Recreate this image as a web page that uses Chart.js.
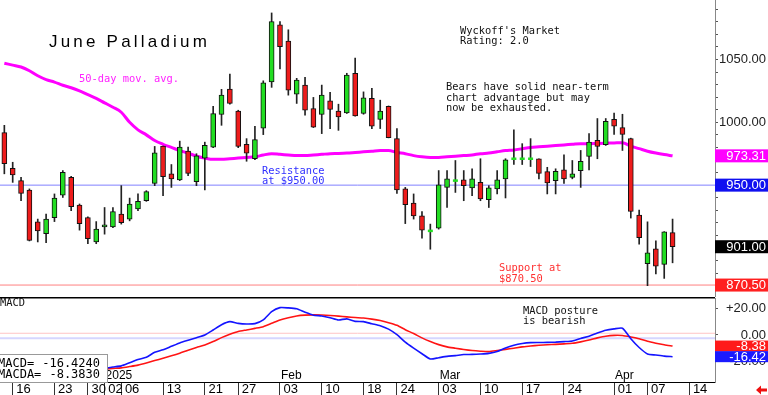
<!DOCTYPE html>
<html>
<head>
<meta charset="utf-8">
<script src="https://cdn.jsdelivr.net/npm/chart.js@4.4.1/dist/chart.umd.min.js"></script>
<style>
html, body { margin: 0; padding: 0; background: #fff; overflow: hidden; }
#wrap { position: relative; width: 768px; height: 395px; }
canvas { position: absolute; left: 0; }
#price { top: 0; }
#macd { top: 297px; }
</style>
</head>
<body>
<div id="wrap">
  <canvas id="price" width="768" height="297"></canvas>
  <canvas id="macd" width="768" height="98"></canvas>
</div>
<script>
// daily bars, Dec 13 2024 .. Apr 10 2025 (index 0 = Dec 13)
const opens = [991.8, 963.4, 953.6, 946.1, 920.8, 911.4, 924.2, 942.1, 956.2, 934.2,
  924.2, 904.8, 916.8, 916.8, 927, 923, 931, 937.6, 951.4, 981,
  959, 954.2, 977, 952.8, 971.4, 980.2, 1006.2, 1026.4, 1009, 982.4,
  971, 995.4, 1032.2, 1077.6, 1064.6, 1022.4, 1029.6, 1011, 1006.2, 1017,
  1009, 1007.4, 1039, 1007, 1019, 1002.2, 1012.8, 987, 947, 935.8,
  925.6, 913.6, 915.8, 948.2, 953.6, 954.2, 947.8, 952.2, 938.4, 946.9,
  955, 971, 971, 971, 971, 960.8, 953.6, 962.2, 956.2, 961.6,
  972.8, 985.6, 982.2, 1002.4, 995.8, 987, 926.2, 887.6, 899.4, 887,
  912.2];
const highs = [997.6, 968.2, 956.2, 947, 923, 927, 943, 961.6, 957, 935,
  924.8, 921, 932.2, 932.2, 949.6, 939.7, 943, 945.6, 980.8, 981,
  966.4, 985, 980.2, 975, 984.2, 1012.8, 1026.2, 1038.4, 1009.6, 987,
  996.8, 1033, 1087, 1080.2, 1073.6, 1035, 1035.8, 1019.8, 1029.6, 1023.8,
  1014.4, 1039, 1051, 1024.2, 1027, 1017.6, 1013, 995, 948.2, 943,
  929, 919, 961.6, 961.6, 969.6, 961.6, 963, 971, 949.6, 961.6,
  971, 994, 983, 987, 971, 964.2, 963, 974.2, 969.6, 977.6,
  991, 1003, 1003, 1007.4, 1006.4, 987.4, 930.2, 920.8, 905.6, 913,
  923];
const lows = [959, 952.2, 937.6, 905.6, 904.8, 904.2, 921, 940.2, 929.6, 914.2,
  903.4, 903.4, 911, 916.2, 919, 921.6, 929.6, 937.1, 949.6, 941.6,
  948.2, 953.6, 957.6, 949.6, 946.2, 979.8, 997.6, 1014.4, 979.8, 969,
  970.2, 990.2, 1027.8, 1042.4, 1021.6, 1015, 1005.6, 995.8, 991, 995,
  993.6, 1007, 1004.8, 1006.4, 995, 995, 987.6, 943.4, 919.4, 923,
  907.8, 899, 915, 932.2, 944.2, 937.6, 941.6, 937.6, 932.2, 943,
  939.8, 966.4, 966.4, 964.8, 955, 943, 943, 951.4, 955, 948.2,
  962.2, 971, 981.6, 990.4, 977.6, 923.8, 903, 870, 879.4, 875.8,
  888.2];
const closes = [967, 958.1, 943.4, 906.1, 913.6, 923, 939.7, 960.2, 932.8, 919.4,
  907.4, 915, 918.4, 929, 920.2, 934.9, 937.1, 944.8, 975.8, 956.8,
  955, 980.2, 959.4, 973.4, 981.6, 1006.9, 1021.6, 1015, 980.8, 975.4,
  986.2, 1031.4, 1080.2, 1060.2, 1025.6, 1033.6, 1009.6, 996.2, 1021.6, 1010.2,
  1004.2, 1037.6, 1005, 1019.4, 997, 1009, 987.8, 946.2, 934.4, 925.6,
  914.2, 913.6, 950.2, 955, 953.6, 949.6, 955, 939, 947.8, 954.2,
  970.2, 971, 971, 971, 959.4, 951.8, 961, 955, 959, 969,
  984.2, 980.8, 1000.8, 997, 990.4, 929, 908.2, 896.2, 885.6, 912.8,
  901];
const ma50 = [1047, 1045.5, 1044, 1041, 1037, 1034, 1032, 1029.5, 1027.5, 1025,
  1022, 1019, 1015.5, 1012, 1008, 1000, 994, 990, 985.5, 982.5,
  980, 977.5, 975.5, 973, 971.5, 970.5, 970.5, 971, 971.5, 972,
  972.5, 974, 975, 974.5, 974, 973.5, 973.5, 974, 974.5, 975,
  975.2, 975.5, 976, 976.5, 977, 977.5, 977.5, 976, 975, 973.5,
  972.5, 972, 972, 972.5, 973, 973.5, 974, 975, 975.5, 976.5,
  977.5, 978, 979, 980, 980.5, 981, 981.5, 982, 982.5, 983,
  983, 983.2, 983.4, 983.6, 983.8, 981, 979, 977, 975.5, 974.3,
  973.31];
const macdLine = [-27, -27.5, -27.8, -28, -28.3, -28.5, -28.2, -28, -27.8, -27.3,
  -26.8, -26, -25.2, -24.3, -23.4, -21, -18.6, -16.9, -13.1, -11.2,
  -8.6, -6, -4, -2.1, 0, 3.8, 7.8, 10.1, 8.8, 8.3,
  8.6, 11.4, 17.7, 20.7, 20.5, 19.8, 17.2, 15, 14.4, 13.1,
  11.4, 12.2, 10.3, 10.1, 8.5, 7, 4.4, 0.2, -5.5, -10,
  -14.2, -18.2, -17.2, -16.2, -15.6, -14.8, -14.7, -14.4, -13.9, -12.5,
  -9.8, -7.8, -6.5, -5.8, -5.7, -5.6, -5.4, -5, -4.5, -2.6,
  -0.9, 1.5, 3.6, 4.6, 5.1, -2.8, -9.5, -14.4, -15.2, -16,
  -16.424];
const macdAvg = [-24, -24.5, -25, -25.4, -25.8, -26.1, -26.4, -26.5, -26.6, -26.5,
  -26.3, -26, -25.8, -25.3, -24.9, -23.9, -22.8, -21.2, -19.4, -17.6,
  -15.8, -13.8, -11.5, -9.4, -7.6, -5, -2, 0.5, 2.6, 3.8,
  5, 6.3, 8.8, 11.4, 13.1, 14.4, 15, 15.2, 15.1, 14.8,
  14.3, 13.7, 13.2, 12.8, 12, 10.9, 9.3, 7.3, 4, 1.1,
  -2.2, -5, -7.3, -9, -10, -11, -11.8, -12.3, -12.6, -11.8,
  -10.9, -10, -9, -8.4, -7.8, -7.4, -7.1, -6.7, -6.3, -5.2,
  -3.8, -2.2, -0.9, -0.3, -0.4, -1.5, -2.8, -4.8, -6.2, -7.4,
  -8.383];
const macdRefLines = [1.3, -2.5];

const tickIdx = [1, 6, 10, 12, 14, 19, 24, 28, 33, 38, 43, 47, 52, 57, 62, 67, 73, 77, 82];
const tickLabels = ['16', '23', '30', '02', '06', '13', '21', '27', '03', '10', '18', '24',
  '03', '10', '17', '24', '01', '07', '14'];
const monthIdx = [12, 33, 52, 73];
const monthLabels = ['2025', 'Feb', 'Mar', 'Apr'];
const priceMajor = [900, 950, 1000, 1050];
const macdTicks = [-20, 0, 20];
const resistance = 950;
const support = 870.5;

const xMin = -0.52, xMax = 85.08;
const up = '#22dd22', down = '#ee1c1c';
const mono = '"DejaVu Sans Mono", monospace';
const axisFont = { family: 'Liberation Sans', size: 13 };
const idx = opens.map((_, i) => i);

function flat(v) {
  return [{ x: xMin, y: v }, { x: xMax, y: v }];
}

function valueBox(ctx, scale, v, color, text, h) {
  const y = scale.getPixelForValue(v);
  ctx.fillStyle = color;
  ctx.fillRect(715, y - h / 2, 53, h);
  ctx.fillStyle = '#fff';
  ctx.font = '13px "Liberation Sans"';
  ctx.textAlign = 'right';
  ctx.textBaseline = 'middle';
  ctx.fillText(text, 766, y + 0.5);
}

function lines(ctx, arr, x, y0, step) {
  arr.forEach((t, k) => ctx.fillText(t, x, y0 + k * step));
}

const priceNotes = {
  id: 'priceNotes',
  afterDraw(chart) {
    const ctx = chart.ctx;
    const ys = chart.scales.y;
    ctx.save();
    ctx.textBaseline = 'alphabetic';
    ctx.textAlign = 'left';
    ctx.fillStyle = '#000';
    ctx.font = '17px "Liberation Sans"';
    ctx.letterSpacing = '3.2px';
    ctx.fillText('June Palladium', 49, 47);
    ctx.letterSpacing = '0px';

    ctx.textBaseline = 'middle';
    ctx.font = '10.4px ' + mono;
    ctx.fillStyle = '#ff22ff';
    ctx.fillText('50-day mov. avg.', 79, 79);
    ctx.fillStyle = '#111';
    lines(ctx, ["Wyckoff's Market", 'Rating: 2.0'], 460, 31, 10.5);
    lines(ctx, ['Bears have solid near-term', 'chart advantage but may', 'now be exhausted.'], 446, 87.5, 10.3);
    ctx.fillStyle = '#3030ff';
    lines(ctx, ['Resistance', 'at $950.00'], 262, 171, 10.5);
    ctx.fillStyle = '#ff3030';
    lines(ctx, ['Support at', '$870.50'], 499, 268.5, 10.5);

    valueBox(ctx, ys, ma50[ma50.length - 1], '#ff00ff', ma50[ma50.length - 1].toFixed(2), 13);
    valueBox(ctx, ys, resistance, '#1010f0', resistance.toFixed(2), 13);
    valueBox(ctx, ys, closes[closes.length - 1], '#000', closes[closes.length - 1].toFixed(2), 13);
    valueBox(ctx, ys, support, '#ff2020', support.toFixed(2), 13);
    ctx.restore();
  }
};

new Chart(document.getElementById('price'), {
  type: 'bar',
  data: {
    datasets: [
      {
        type: 'line',
        data: idx.filter(i => opens[i] === closes[i]).map(i => ({ x: i, y: opens[i] })),
        showLine: false,
        pointStyle: 'line',
        pointRadius: 2.5,
        pointHoverRadius: 0,
        pointBorderWidth: 2.5,
        pointBorderColor: up,
        pointBackgroundColor: up
      },
      {
        type: 'bar',
        data: idx.map(i => ({ x: i, y: [opens[i], closes[i]] })),
        barThickness: 5,
        grouped: false,
        borderWidth: 1,
        borderSkipped: false,
        borderColor: '#111',
        backgroundColor: c => closes[c.dataIndex] >= opens[c.dataIndex] ? up : down
      },
      {
        type: 'bar',
        data: idx.map(i => ({ x: i, y: [lows[i], highs[i]] })),
        barThickness: 1,
        grouped: false,
        borderWidth: 0,
        backgroundColor: '#222'
      },
      {
        type: 'line',
        data: idx.map(i => ({ x: i, y: ma50[i] })),
        borderColor: '#ff00ff',
        borderWidth: 3,
        pointRadius: 0,
        cubicInterpolationMode: 'monotone'
      },
      { type: 'line', data: flat(resistance), borderColor: '#8080ff', borderWidth: 1, pointRadius: 0 },
      { type: 'line', data: flat(support), borderColor: '#ff8080', borderWidth: 1, pointRadius: 0 }
    ]
  },
  options: {
    responsive: false,
    animation: false,
    layout: { autoPadding: false, padding: { top: 0, right: 2, bottom: 0, left: 0 } },
    plugins: { legend: { display: false }, tooltip: { enabled: false } },
    scales: {
      x: { type: 'linear', min: xMin, max: xMax, offset: false, display: false, grid: { offset: false } },
      y: {
        position: 'right',
        min: 861,
        max: 1097.3,
        afterFit: s => { s.width = 51; s.paddingTop = 0; s.paddingBottom = 0; },
        ticks: {
          stepSize: 10,
          includeBounds: false,
          autoSkip: false,
          crossAlign: 'far',
          color: '#222',
          font: axisFont,
          callback: v => priceMajor.includes(v) ? v.toFixed(2) : ''
        },
        grid: { drawOnChartArea: false, tickLength: 3, color: '#555' },
        border: { color: '#888' }
      }
    }
  },
  plugins: [priceNotes]
});

const macdNotes = {
  id: 'macdNotes',
  afterDraw(chart) {
    const ctx = chart.ctx;
    const xs = chart.scales.x, ys = chart.scales.y;
    ctx.save();
    ctx.fillStyle = '#000';
    ctx.fillRect(0, 0, 715, 1.5);

    ctx.textBaseline = 'middle';
    ctx.textAlign = 'left';
    ctx.font = '10.4px ' + mono;
    ctx.fillStyle = '#111';
    ctx.fillText('MACD', 0, 6);
    lines(ctx, ['MACD posture', 'is bearish'], 523, 14, 10.5);

    ctx.font = '12px "Liberation Sans"';
    ctx.fillStyle = '#000';
    monthIdx.forEach((m, k) => ctx.fillText(monthLabels[k], xs.getPixelForValue(m) + 1, 79));

    ctx.fillStyle = '#fff';
    ctx.fillRect(-1, 57, 109, 28);
    ctx.strokeStyle = '#999';
    ctx.lineWidth = 1;
    ctx.strokeRect(-0.5, 57.5, 108, 28);
    ctx.fillStyle = '#000';
    ctx.font = '12px ' + mono;
    ctx.fillText('MACD=', -2, 66.5);
    ctx.fillText('MACDA=', -2, 77.5);
    ctx.textAlign = 'right';
    ctx.fillText(macdLine[macdLine.length - 1].toFixed(4), 100, 66.5);
    ctx.fillText(macdAvg[macdAvg.length - 1].toFixed(4), 100, 77.5);

    const a = macdAvg[macdAvg.length - 1], b = macdLine[macdLine.length - 1];
    valueBox(ctx, ys, a, '#ff1a1a', a.toFixed(2), 11);
    valueBox(ctx, ys, b, '#1a1aff', b.toFixed(2), 11);

    ctx.fillStyle = '#ee1010';
    ctx.beginPath();
    ctx.moveTo(756, 93);
    ctx.lineTo(761, 88.5);
    ctx.lineTo(761, 91.5);
    ctx.lineTo(767, 91.5);
    ctx.lineTo(767, 94.5);
    ctx.lineTo(761, 94.5);
    ctx.lineTo(761, 97.5);
    ctx.closePath();
    ctx.fill();
    ctx.restore();
  }
};

new Chart(document.getElementById('macd'), {
  type: 'line',
  data: {
    datasets: [
      { data: idx.map(i => ({ x: i, y: macdLine[i] })), borderColor: '#1414ff', borderWidth: 1.6, pointRadius: 0, tension: 0.2 },
      { data: idx.map(i => ({ x: i, y: macdAvg[i] })), borderColor: '#ff1414', borderWidth: 1.6, pointRadius: 0, tension: 0.2 },
      { data: flat(macdRefLines[0]), borderColor: '#ffc4c4', borderWidth: 1, pointRadius: 0 },
      { data: flat(macdRefLines[1]), borderColor: '#d6d6ff', borderWidth: 2, pointRadius: 0 }
    ]
  },
  options: {
    responsive: false,
    animation: false,
    layout: { autoPadding: false, padding: { top: 1, right: 2, bottom: 0, left: 0 } },
    plugins: { legend: { display: false }, tooltip: { enabled: false } },
    scales: {
      x: {
        type: 'linear',
        min: xMin,
        max: xMax,
        offset: false,
        afterBuildTicks: s => { s.ticks = tickIdx.map(v => ({ value: v })); },
        afterFit: s => { s.height = 13; s.paddingLeft = 0; s.paddingRight = 0; },
        ticks: {
          autoSkip: false,
          maxRotation: 0,
          align: 'start',
          padding: -13,
          color: '#000',
          font: axisFont,
          callback: (v, i) => ' ' + tickLabels[i]
        },
        grid: { drawOnChartArea: false, tickLength: 13, color: '#333', offset: false },
        border: { color: '#000' }
      },
      y: {
        position: 'right',
        min: -35.6,
        max: 28,
        afterBuildTicks: s => { s.ticks = macdTicks.map(v => ({ value: v })); },
        afterFit: s => { s.width = 51; s.paddingTop = 0; s.paddingBottom = 0; },
        ticks: {
          autoSkip: false,
          crossAlign: 'far',
          color: '#222',
          font: axisFont,
          callback: v => (v > 0 ? '+' : '') + v.toFixed(2)
        },
        grid: { drawOnChartArea: false, tickLength: 3, color: '#555' },
        border: { color: '#888' }
      }
    }
  },
  plugins: [macdNotes]
});
</script>
</body>
</html>
